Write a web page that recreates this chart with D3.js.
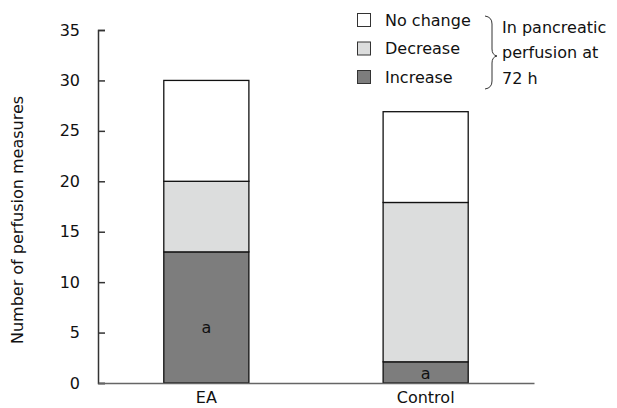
<!DOCTYPE html>
<html>
<head>
<meta charset="utf-8">
<script src="https://cdn.jsdelivr.net/npm/d3@7"></script>
<style>
  html, body { margin: 0; padding: 0; background: #fff; overflow: hidden; }
  svg { display: block; }
  text { font-family: "DejaVu Sans", Verdana, sans-serif; font-size: 16px; fill: #111; }
</style>
</head>
<body>
<div id="chart"></div>
<script>
const groups = ['EA', 'Control'];
const increase = [13, 2.1];
const decrease = [7, 15.8];
const noChange = [10, 9];
const seriesNames = ['Increase', 'Decrease', 'No change'];
const seriesColors = ['#7d7d7d', '#dcdddd', '#ffffff'];
const yTicks = [0, 5, 10, 15, 20, 25, 30, 35];
const marks = ['a', 'a'];
const markValues = [5.5, 1];

const width = 617, height = 408;
const margin = { top: 30, right: 83, bottom: 25, left: 98 };
const innerWidth = width - margin.left - margin.right;
const innerHeight = height - margin.top - margin.bottom;

const svg = d3.select('#chart').append('svg')
  .attr('width', width)
  .attr('height', height);

const g = svg.append('g')
  .attr('transform', `translate(${margin.left},${margin.top})`);

const rows = groups.map((k, i) => ({
  group: k,
  Increase: increase[i],
  Decrease: decrease[i],
  'No change': noChange[i]
}));

const stack = d3.stack().keys(seriesNames);
const layers = stack(rows);

const xScale = d3.scaleBand()
  .domain(groups)
  .range([0, innerWidth])
  .paddingInner(0.612)
  .paddingOuter(0.3);

const yScale = d3.scaleLinear()
  .domain([0, 35])
  .range([innerHeight, 0]);

const colorScale = d3.scaleOrdinal()
  .domain(seriesNames)
  .range(seriesColors);

// bars
g.selectAll('.layer')
  .data(layers)
  .enter().append('g')
  .attr('class', 'layer')
  .attr('fill', d => colorScale(d.key))
  .selectAll('rect')
  .data(d => d)
  .enter().append('rect')
  .attr('x', d => xScale(d.data.group))
  .attr('y', d => yScale(d[1]))
  .attr('width', xScale.bandwidth())
  .attr('height', d => yScale(d[0]) - yScale(d[1]))
  .attr('stroke', '#111')
  .attr('stroke-width', 1.3);

// significance marks
g.selectAll('.mark')
  .data(groups)
  .enter().append('text')
  .attr('class', 'mark')
  .attr('x', d => xScale(d) + xScale.bandwidth() / 2)
  .attr('y', (d, i) => yScale(markValues[i]))
  .attr('dy', '0.35em')
  .attr('text-anchor', 'middle')
  .text((d, i) => marks[i]);

// axes
const yAxis = d3.axisLeft(yScale)
  .tickValues(yTicks)
  .tickSize(-7)
  .tickPadding(18)
  .tickFormat(d3.format('d'));

const yAxisG = g.append('g').call(yAxis)
  .attr('font-size', null)
  .attr('font-family', null);
yAxisG.select('.domain').attr('stroke', '#333').attr('stroke-width', 1.5);
yAxisG.selectAll('.tick line').attr('stroke', '#333').attr('stroke-width', 1.5);
yAxisG.selectAll('.tick text').attr('fill', '#111');

const xAxis = d3.axisBottom(xScale).tickSize(0).tickPadding(9);
const xAxisG = g.append('g')
  .attr('transform', `translate(0,${innerHeight})`)
  .call(xAxis)
  .attr('font-size', null)
  .attr('font-family', null);
xAxisG.select('.domain').attr('stroke', '#666').attr('stroke-width', 1.5);
xAxisG.selectAll('.tick text').attr('fill', '#111');

// y label
g.append('text')
  .attr('transform', 'rotate(-90)')
  .attr('x', -190)
  .attr('y', -75)
  .attr('text-anchor', 'middle')
  .text('Number of perfusion measures');

// legend
const legend = svg.append('g').attr('transform', 'translate(357,0)');
const legendItems = ['No change', 'Decrease', 'Increase'];
const legendY = d3.scalePoint().domain(legendItems).range([20, 77]);

legend.selectAll('rect')
  .data(legendItems)
  .enter().append('rect')
  .attr('x', 0.5)
  .attr('y', d => legendY(d) - 6.5)
  .attr('width', 13)
  .attr('height', 13)
  .attr('fill', d => colorScale(d))
  .attr('stroke', '#333')
  .attr('stroke-width', 1);

legend.selectAll('text')
  .data(legendItems)
  .enter().append('text')
  .attr('x', 28)
  .attr('y', d => legendY(d))
  .attr('dy', '0.35em')
  .text(d => d);

// brace
const brace = d3.path();
brace.moveTo(485, 16);
brace.quadraticCurveTo(492, 17, 492, 24);
brace.lineTo(492, 49);
brace.quadraticCurveTo(492, 55, 497, 56);
brace.quadraticCurveTo(492, 57, 492, 63);
brace.lineTo(492, 81);
brace.quadraticCurveTo(492, 88, 485, 89);
svg.append('path')
  .attr('d', brace.toString())
  .attr('fill', 'none')
  .attr('stroke', '#333')
  .attr('stroke-width', 1);

const noteLines = ['In pancreatic', 'perfusion at', '72 h'];
svg.selectAll('.note')
  .data(noteLines)
  .enter().append('text')
  .attr('class', 'note')
  .attr('x', 502)
  .attr('y', (d, i) => 27 + i * 25.5)
  .attr('dy', '0.35em')
  .text(d => d);
</script>
</body>
</html>
